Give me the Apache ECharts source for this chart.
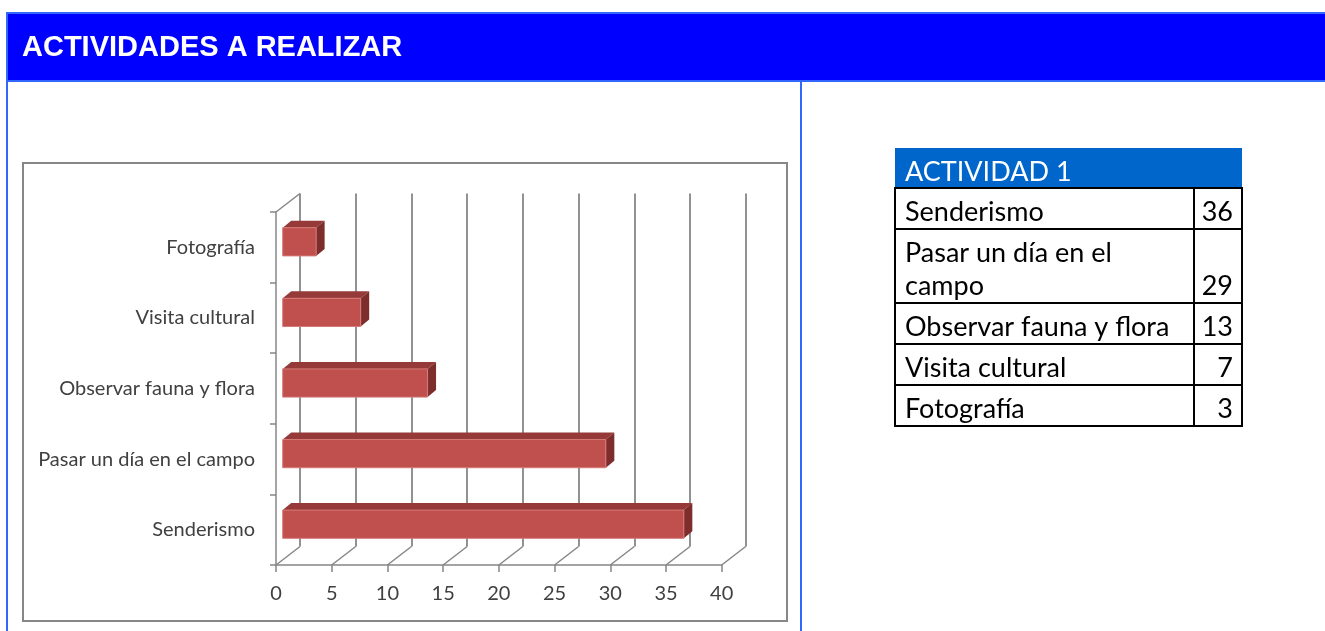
<!DOCTYPE html>
<html>
<head>
<meta charset="utf-8">
<script src="https://cdn.jsdelivr.net/npm/echarts@6/dist/echarts.min.js"></script>
<style>
  html, body { margin: 0; padding: 0; background: #fff; overflow: hidden; }
  #main { width: 1325px; height: 631px; }
</style>
</head>
<body>
<div id="main"></div>
<script>
// ---- data ----
const pageTitle = 'ACTIVIDADES A REALIZAR';
const tableTitle = 'ACTIVIDAD 1';
const categories = ['Senderismo', 'Pasar un día en el campo', 'Observar fauna y flora', 'Visita cultural', 'Fotografía'];
const counts = [36, 29, 13, 7, 3];
const xTicks = [0, 5, 10, 15, 20, 25, 30, 35, 40];

// ---- pseudo-3D frame geometry ----
const FRONT = { left: 276, top: 212, width: 445.7, height: 353 };
const DEPTH = [24, -18.5];      // back wall offset from the front plane
const BAR_NEAR = [6.7, -5.5];   // bar front face offset from the front plane
const BAR_DEPTH = [8.5, -7];    // bar thickness (front face -> back face)

const GRID_COLOR = '#868686';
const LABEL_COLOR = '#404040';
const CHART_FONT = 'Lato';
const TABLE_FONT = 'Lato';

const chart = echarts.init(document.getElementById('main'));

function renderBar(params, api) {
  const v = api.value(0), i = api.value(1);
  const a = api.coord([0, i]);
  const b = api.coord([v, i]);
  const band = api.size([0, 1])[1];
  const h = band * 0.4;
  const x0 = a[0] + BAR_NEAR[0], x1 = b[0] + BAR_NEAR[0];
  const yT = a[1] + BAR_NEAR[1] - h / 2, yB = yT + h;
  const dx = BAR_DEPTH[0], dy = BAR_DEPTH[1];
  return {
    type: 'group',
    children: [
      { type: 'polygon', shape: { points: [[x0, yT], [x1, yT], [x1 + dx, yT + dy], [x0 + dx, yT + dy]] },
        style: { fill: '#953a38' } },
      { type: 'polygon', shape: { points: [[x1, yT], [x1 + dx, yT + dy], [x1 + dx, yB + dy], [x1, yB]] },
        style: { fill: '#7d2e2c' } },
      { type: 'rect', shape: { x: x0, y: yT, width: x1 - x0, height: h },
        style: { fill: '#c0504d', stroke: '#d47a78', lineWidth: 1 } }
    ]
  };
}

// floor diagonals under each value tick, plus the top edge of the left wall
function renderFrame(params, api) {
  const t = api.value(0);
  const p = api.coord([t, 0]);
  const cs = params.coordSys;
  const yb = cs.y + cs.height;
  const style = { stroke: GRID_COLOR, lineWidth: 1.5 };
  const children = [
    { type: 'line', shape: { x1: p[0], y1: yb, x2: p[0] + DEPTH[0], y2: yb + DEPTH[1] }, style }
  ];
  if (t === xTicks[0]) {
    children.push({ type: 'line', shape: { x1: p[0], y1: cs.y, x2: p[0] + DEPTH[0], y2: cs.y + DEPTH[1] }, style });
  }
  return { type: 'group', children };
}

// ---- data table on the right ----
const measureCtx = document.createElement('canvas').getContext('2d');
function wrapLines(text, font, maxW) {
  measureCtx.font = font;
  const words = text.split(' ');
  const lines = [];
  let cur = '';
  for (const w of words) {
    const t = cur ? cur + ' ' + w : w;
    if (cur && measureCtx.measureText(t).width > maxW) { lines.push(cur); cur = w; }
    else cur = t;
  }
  lines.push(cur);
  return lines;
}

function buildTable() {
  const L = 895, R = 1242, DIV = 1194, TOP = 148, HEAD_H = 40;
  const fs = 27, lineStep = 34, pad = 8;
  const font = fs + 'px ' + TABLE_FONT;
  const els = [];
  els.push({ type: 'rect', shape: { x: L, y: TOP, width: R - L, height: HEAD_H }, style: { fill: '#0066cc' } });
  els.push({ type: 'text', x: 905, y: TOP + HEAD_H / 2 + 4,
    style: { text: tableTitle, fill: '#fff', font: font, verticalAlign: 'middle' } });
  let y = TOP + HEAD_H;
  categories.forEach((name, i) => {
    const lines = wrapLines(name, font, 282);
    const h = pad - 1 + lineStep * lines.length - (lines.length - 1) * 1;
    els.push({ type: 'rect', shape: { x: L, y: y, width: R - L, height: h },
      style: { fill: 'none', stroke: '#000', lineWidth: 2 } });
    els.push({ type: 'line', shape: { x1: DIV, y1: y, x2: DIV, y2: y + h },
      style: { stroke: '#000', lineWidth: 2 } });
    lines.forEach((ln, k) => {
      const cy = y + h - pad - 33 * (lines.length - 1 - k) - 9;
      els.push({ type: 'text', x: 905, y: cy, style: { text: ln, fill: '#000', font: font, verticalAlign: 'middle' } });
    });
    els.push({ type: 'text', x: 1233, y: y + h - pad - 9,
      style: { text: String(counts[i]), fill: '#000', font: font, align: 'right', verticalAlign: 'middle' } });
    y += h;
  });
  return els;
}

const pageGraphics = [
  // title band
  { type: 'rect', shape: { x: 6, y: 12, width: 1330, height: 70 }, style: { fill: '#3366ff' } },
  { type: 'rect', shape: { x: 8, y: 14, width: 1330, height: 66 }, style: { fill: '#0000ff' } },
  { type: 'text', x: 22, y: 48,
    style: { text: pageTitle, fill: '#fff', font: 'bold 29px "Liberation Sans", Arial, sans-serif', verticalAlign: 'middle' } },
  // panel borders
  { type: 'rect', shape: { x: 6, y: 82, width: 2, height: 560 }, style: { fill: '#3366ff' } },
  { type: 'rect', shape: { x: 800, y: 82, width: 2, height: 560 }, style: { fill: '#3366ff' } },
  // chart box
  { type: 'rect', shape: { x: 23, y: 163, width: 764, height: 458 },
    style: { fill: 'none', stroke: '#878787', lineWidth: 2 } }
];

const option = {
  animation: false,
  backgroundColor: '#fff',
  textStyle: { fontFamily: CHART_FONT },
  grid: [
    { left: FRONT.left, top: FRONT.top, width: FRONT.width, height: FRONT.height },
    { left: FRONT.left + DEPTH[0], top: FRONT.top + DEPTH[1], width: FRONT.width, height: FRONT.height }
  ],
  xAxis: [
    {
      gridIndex: 0, type: 'value', min: 0, max: 40, interval: 5,
      axisLine: { show: true, lineStyle: { color: GRID_COLOR, width: 1.5 } },
      axisTick: { show: true, length: 7, lineStyle: { color: GRID_COLOR, width: 1.5 } },
      axisLabel: { color: LABEL_COLOR, fontSize: 20, margin: 19, fontFamily: CHART_FONT,
        customValues: xTicks },
      splitLine: { show: false }
    },
    {
      gridIndex: 1, type: 'value', min: 0, max: 40, interval: 5,
      axisLine: { show: false }, axisTick: { show: false }, axisLabel: { show: false },
      splitLine: { show: true, lineStyle: { color: GRID_COLOR, width: 1.8 } }
    }
  ],
  yAxis: [
    {
      gridIndex: 0, type: 'category', data: categories,
      axisLine: { show: true, lineStyle: { color: GRID_COLOR, width: 1.5 } },
      axisTick: { show: true, length: 6, lineStyle: { color: GRID_COLOR, width: 1.5 } },
      axisLabel: { color: LABEL_COLOR, fontSize: 20, margin: 21, fontFamily: CHART_FONT },
      splitLine: { show: false }
    },
    {
      gridIndex: 1, type: 'category', data: categories, show: false
    }
  ],
  series: [
    {
      type: 'custom', xAxisIndex: 0, yAxisIndex: 0, clip: false, silent: true, z: 1,
      data: xTicks.map(t => [t, 0]),
      encode: { x: 0, y: 1 },
      renderItem: renderFrame
    },
    {
      type: 'custom', name: tableTitle, xAxisIndex: 0, yAxisIndex: 0, clip: false, z: 5,
      data: counts.map((v, i) => [v, i]),
      encode: { x: 0, y: 1 },
      renderItem: renderBar
    }
  ],
  graphic: { elements: pageGraphics.concat(buildTable()) }
};

chart.setOption(option);
</script>
</body>
</html>
